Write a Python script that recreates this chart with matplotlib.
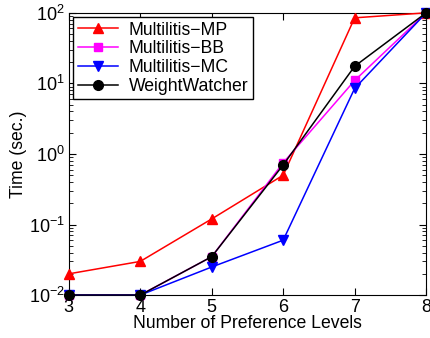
import matplotlib
matplotlib.use("Agg")
import matplotlib.pyplot as plt
from matplotlib.ticker import LogLocator, NullFormatter

plt.rcParams['font.family'] = ['Liberation Sans', 'DejaVu Sans']
plt.rcParams['mathtext.default'] = 'regular'

levels = [3, 4, 5, 6, 7, 8]
mp = [0.02, 0.03, 0.12, 0.5, 85, 100]
bb = [0.01, 0.01, 0.035, 0.75, 11, 100]
mc = [0.01, 0.01, 0.025, 0.06, 8.5, 100]
ww = [0.01, 0.01, 0.035, 0.7, 17.5, 100]
labels = ['Multilitis\u2212MP', 'Multilitis\u2212BB', 'Multilitis\u2212MC', 'WeightWatcher']

fig = plt.figure(figsize=(4.3, 3.38), dpi=100)
ax = fig.add_axes([0.16, 0.127, 0.831, 0.835])

ax.plot(levels, mp, color='red', marker='^', ms=7, lw=1.1, label=labels[0], clip_on=False, zorder=3)
ax.plot(levels, bb, color='magenta', marker='s', ms=6, lw=1.1, label=labels[1], clip_on=False, zorder=3)
ax.plot(levels, mc, color='blue', marker='v', ms=7, lw=1.1, label=labels[2], clip_on=False, zorder=3)
ax.plot(levels, ww, color='black', marker='o', ms=7, lw=1.1, label=labels[3], clip_on=False, zorder=4)

ax.set_yscale('log')
ax.set_xlim(3, 8)
ax.set_ylim(0.01, 100)
ax.set_xticks(levels)
ax.yaxis.set_major_locator(LogLocator(base=10, numticks=10))
ax.yaxis.set_minor_locator(LogLocator(base=10, subs=range(2, 10), numticks=20))
ax.yaxis.set_minor_formatter(NullFormatter())
ax.tick_params(which='both', direction='in', top=True, right=True, labelsize=13)
ax.tick_params(which='major', length=5, pad=3)
ax.tick_params(which='minor', length=3)
ax.set_xlabel('Number of Preference Levels', fontsize=12.7, labelpad=-1)
ax.set_ylabel('Time (sec.)', fontsize=12.7, labelpad=1)

leg = ax.legend(loc='upper left', fontsize=12.7, frameon=True, fancybox=False,
                edgecolor='black', framealpha=1, borderaxespad=0.25,
                handlelength=2.3, labelspacing=0.1, borderpad=0.25, handletextpad=0.6)
leg.get_frame().set_linewidth(1.0)

fig.savefig('out.png', dpi=100)
